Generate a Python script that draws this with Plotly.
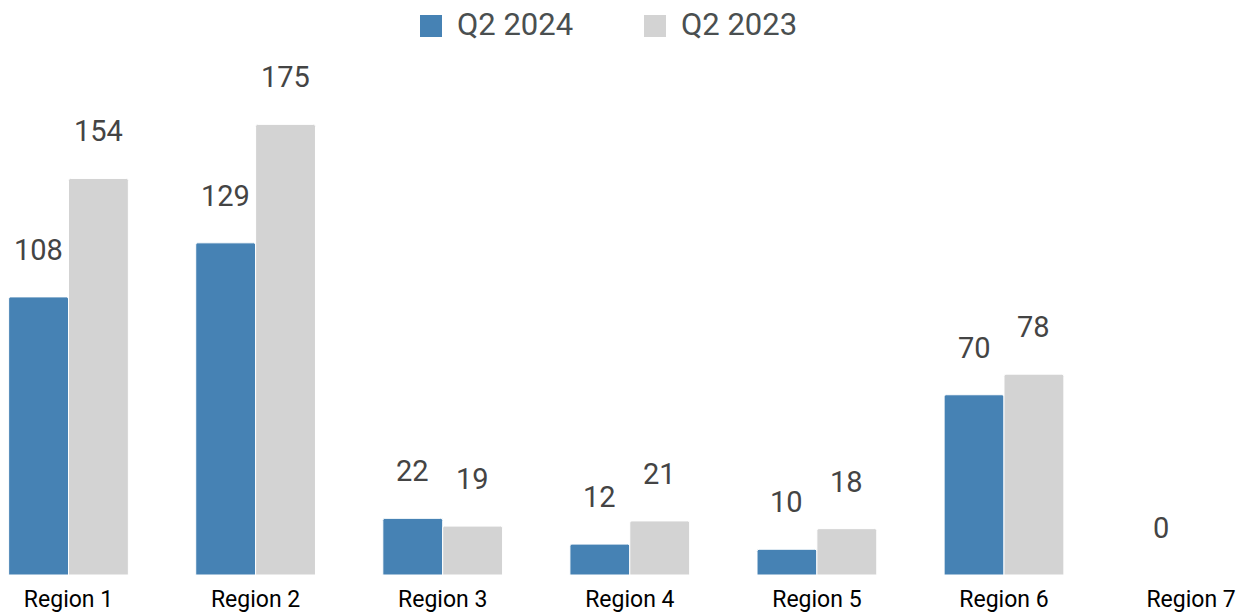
import plotly.graph_objects as go

# data
regions = ["Region 1", "Region 2", "Region 3", "Region 4", "Region 5", "Region 6", "Region 7"]
q2_2024 = [108, 129, 22, 12, 10, 70, 0]
q2_2023 = [154, 175, 19, 21, 18, 78, None]
series_names = ["Q2 2024", "Q2 2023"]

BLUE = "#4682B4"
GREY = "#D3D3D3"
FONT = "Roboto, Arial, sans-serif"
BARGAP = 0.36

W, H = 1249, 613

fig = go.Figure()

series = [(series_names[0], q2_2024, BLUE), (series_names[1], q2_2023, GREY)]
for name, vals, color in series:
    fig.add_trace(go.Bar(
        x=regions, y=vals, name=name,
        marker=dict(color=color, line=dict(color="white", width=1), cornerradius=2),
        showlegend=False, hovertemplate="%{x}: %{y}<extra>" + name + "</extra>",
    ))

annotations = []
# value labels, floated above each bar like in the reference
half = (1 - BARGAP) / 4
for k, (name, vals, color) in enumerate(series):
    off = -half if k == 0 else half
    for i, v in enumerate(vals):
        if v is None:
            continue
        annotations.append(dict(
            x=i + off, y=v, xref="x", yref="y", text=str(v), showarrow=False,
            yanchor="middle", yshift=47,
            font=dict(family=FONT, size=29, color="#444444"),
        ))

# legend drawn by hand so the swatches can be as big as in the reference
shapes = []
for (name, vals, color), px in zip(series, [420, 644]):
    shapes.append(dict(type="rect", xref="paper", yref="paper",
                       x0=px / W, x1=(px + 22) / W, y0=1.0447, y1=1.0874,
                       fillcolor=color, line=dict(width=0)))
    annotations.append(dict(text=name, xref="paper", yref="paper",
                            x=(px + 35) / W, y=1.068, xanchor="left", yanchor="middle",
                            showarrow=False,
                            font=dict(family=FONT, size=31, color="#4a4f50")))

fig.update_layout(
    width=W, height=H,
    margin=dict(l=0, r=0, t=60, b=38),
    paper_bgcolor="white", plot_bgcolor="white",
    barmode="group", bargap=BARGAP, bargroupgap=0.0,
    font=dict(family=FONT),
    shapes=shapes, annotations=annotations,
)
fig.update_xaxes(
    range=[-0.3661, 6.3095], showgrid=False, showline=False, zeroline=False,
    ticks="", ticklabelstandoff=8, automargin=False,
    tickfont=dict(family=FONT, size=23, color="black"),
)
fig.update_yaxes(range=[0, 200], visible=False)

# drop the browser's default 8px body margin so the figure fills the window
fig.write_html("out.html", config={"displayModeBar": False},
               post_script="document.body.style.margin='0';")
